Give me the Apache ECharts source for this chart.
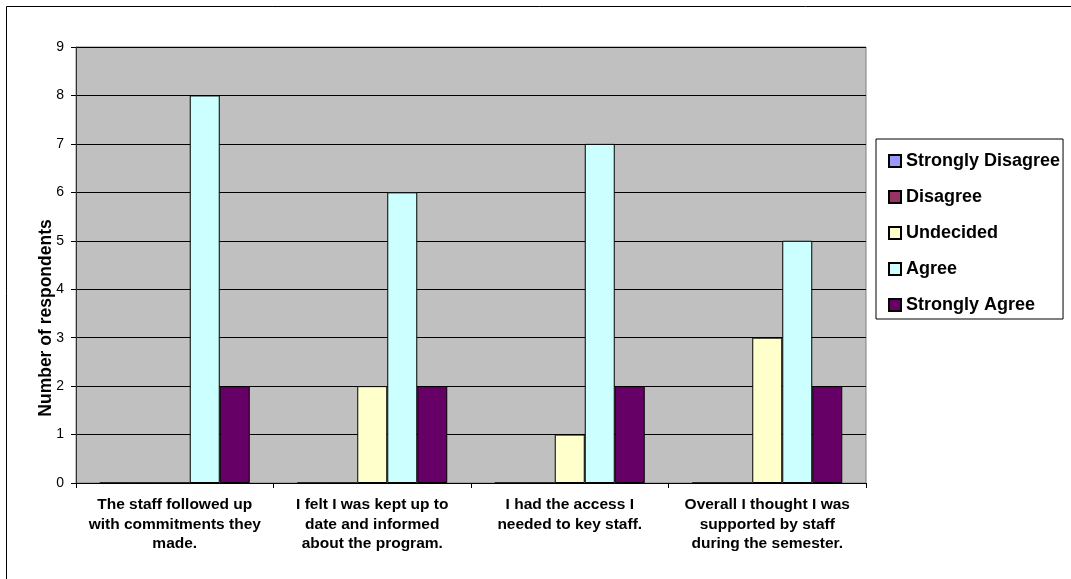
<!DOCTYPE html>
<html>
<head>
<meta charset="utf-8">
<script src="https://cdn.jsdelivr.net/npm/echarts@6/dist/echarts.min.js"></script>
<style>
  html, body { margin: 0; padding: 0; background: #fff; }
  #chart { width: 1071px; height: 579px; }
</style>
</head>
<body>
<div id="chart"></div>
<script>
// Survey statements (wrapped as they appear under the axis)
const categories = [
  'The staff followed up\nwith commitments they\nmade.',
  'I felt I was kept up to\ndate and informed\nabout the program.',
  'I had the access I\nneeded to key staff.',
  'Overall I thought I was\nsupported by staff\nduring the semester.'
];

// Number of respondents per response level, one value per statement
const stronglyDisagree = [0, 0, 0, 0];
const disagree         = [0, 0, 0, 0];
const undecided        = [0, 2, 1, 3];
const agree            = [8, 6, 7, 5];
const stronglyAgree    = [2, 2, 2, 2];

const seriesNames = ['Strongly Disagree', 'Disagree', 'Undecided', 'Agree', 'Strongly Agree'];
const seriesData  = [stronglyDisagree, disagree, undecided, agree, stronglyAgree];
const seriesColors = ['#9999FF', '#993366', '#FFFFCC', '#CCFFFF', '#660066'];

const yTicks = { min: 0, max: 9, interval: 1 };
const yTitle = 'Number of respondents';

const FONT = 'Liberation Sans, Arial, sans-serif';

const chart = echarts.init(document.getElementById('chart'), null, { renderer: 'canvas' });

chart.setOption({
  backgroundColor: '#ffffff',
  animation: false,
  textStyle: { fontFamily: FONT, color: '#000' },
  graphic: [
    {
      // outer chart frame
      type: 'rect',
      shape: { x: 6.5, y: 6.5, width: 1100, height: 620 },
      style: { fill: null, stroke: '#000', lineWidth: 1 },
      silent: true,
      z: 0
    },
    {
      // value axis title, rotated
      type: 'text',
      x: 46, y: 318,
      rotation: Math.PI / 2,
      style: {
        text: yTitle,
        fontFamily: FONT, fontSize: 17.5, fontWeight: 'bold', fill: '#000',
        align: 'center', verticalAlign: 'middle'
      },
      silent: true
    }
  ],
  grid: {
    left: 76, top: 47, right: 205, bottom: 96,
    show: true,
    backgroundColor: '#C0C0C0',
    borderColor: '#808080',
    borderWidth: 1
  },
  legend: {
    orient: 'vertical',
    left: 876, top: 139,
    padding: [12, 3, 4, 12],
    borderColor: '#000',
    borderWidth: 1,
    backgroundColor: '#fff',
    itemWidth: 12, itemHeight: 12,
    itemGap: 16,
    icon: 'rect',
    textStyle: { fontFamily: FONT, fontSize: 18, fontWeight: 'bold', color: '#000', lineHeight: 20 },
    data: seriesNames
  },
  xAxis: {
    type: 'category',
    data: categories,
    boundaryGap: true,
    axisLine: { show: true, lineStyle: { color: '#000', width: 1 } },
    axisTick: { show: true, alignWithLabel: false, length: 5, lineStyle: { color: '#000' } },
    axisLabel: {
      interval: 0,
      margin: 12,
      fontFamily: FONT, fontSize: 15.5, fontWeight: 'bold', color: '#000',
      lineHeight: 19.5, align: 'center'
    },
    splitLine: { show: false }
  },
  yAxis: {
    type: 'value',
    min: yTicks.min, max: yTicks.max, interval: yTicks.interval,
    axisLine: { show: true, lineStyle: { color: '#333', width: 1 } },
    axisTick: { show: true, inside: false, length: 5, lineStyle: { color: '#000' } },
    axisLabel: { margin: 12, fontFamily: FONT, fontSize: 14, color: '#000' },
    splitLine: { show: true, lineStyle: { color: '#000', width: 1 } }
  },
  series: seriesNames.map((name, i) => ({
    name,
    type: 'bar',
    data: seriesData[i],
    barWidth: 30,
    barGap: 0,
    itemStyle: { color: seriesColors[i], borderColor: '#000', borderWidth: 1 }
  }))
});
</script>
</body>
</html>
